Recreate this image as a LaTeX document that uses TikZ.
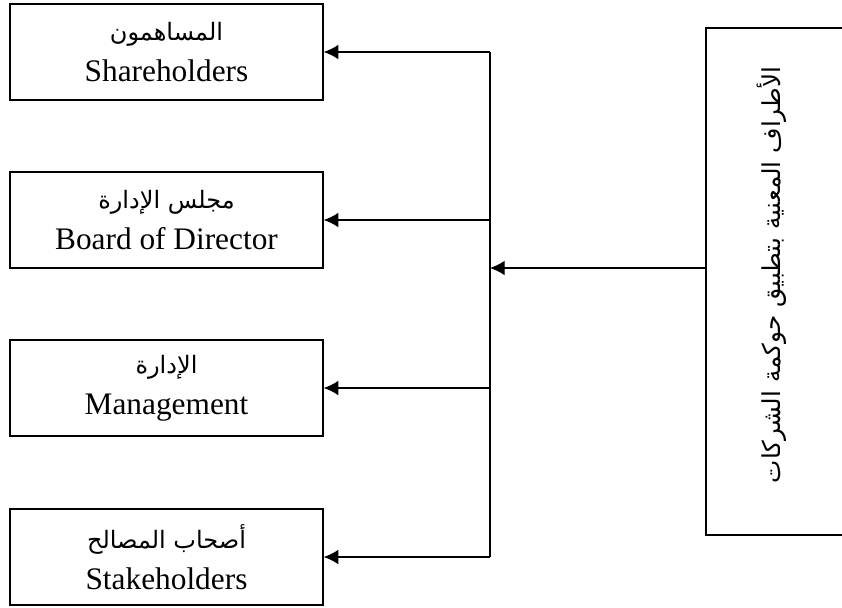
\documentclass[tikz,border=0pt]{standalone}
\usepackage{fontspec}
\setmainfont{Liberation Serif}
\newfontfamily\arabicfont[Script=Arabic]{DejaVu Sans}
\TeXXeTstate=1
\usetikzlibrary{arrows.meta}

\begin{document}
\begin{tikzpicture}[x=0.75pt, y=-0.75pt,
	party/.style={draw, line width=1pt, minimum width=234.75pt, minimum height=72pt, inner sep=0pt, align=center, font=\fontsize{23.5}{28}\selectfont},
	rbox/.style={draw, line width=1pt, minimum width=123pt, minimum height=380.25pt, inner sep=0pt},
	arr/.style={-{Latex[length=11pt,width=11pt]}, line width=1pt}]
	\useasboundingbox (0,0) rectangle (842,607);
	\clip (0,0) rectangle (842,607);

	\node[party] (share) at (166.5,52) {{\arabicfont\fontsize{18}{20}\selectfont\beginR المساهمون\endR}\\[3pt]Shareholders};
	\node[party] (board) at (166.5,220) {{\arabicfont\fontsize{18}{20}\selectfont\beginR مجلس الإدارة\endR}\\[3pt]Board of Director};
	\node[party] (mgmt) at (166.5,388) {{\arabicfont\fontsize{18}{20}\selectfont\beginR الإدارة\endR}\\[3pt]Management};
	\node[party] (stake) at (166.5,557) {{\arabicfont\fontsize{18}{20}\selectfont\beginR أصحاب المصالح\endR}\\[3pt]Stakeholders};

	\node[rbox] (parties) at (788,281.5) {};
	\node[rotate=90, inner sep=0pt] (partiestitle) at (772,275) {\arabicfont\fontsize{18.5}{22}\selectfont\beginR الأطراف المعنية بتطبيق حوكمة الشركات\endR};

	\coordinate (hub) at (490,268);

	% bus
	\draw[line width=1pt] (share.east -| hub) -- (stake.east -| hub);
	\draw[arr] (parties.west |- hub) -- (hub);
	\draw[arr] (share.east -| hub) -- (share.east);
	\draw[arr] (board.east -| hub) -- (board.east);
	\draw[arr] (mgmt.east -| hub) -- (mgmt.east);
	\draw[arr] (stake.east -| hub) -- (stake.east);
\end{tikzpicture}
\end{document}
